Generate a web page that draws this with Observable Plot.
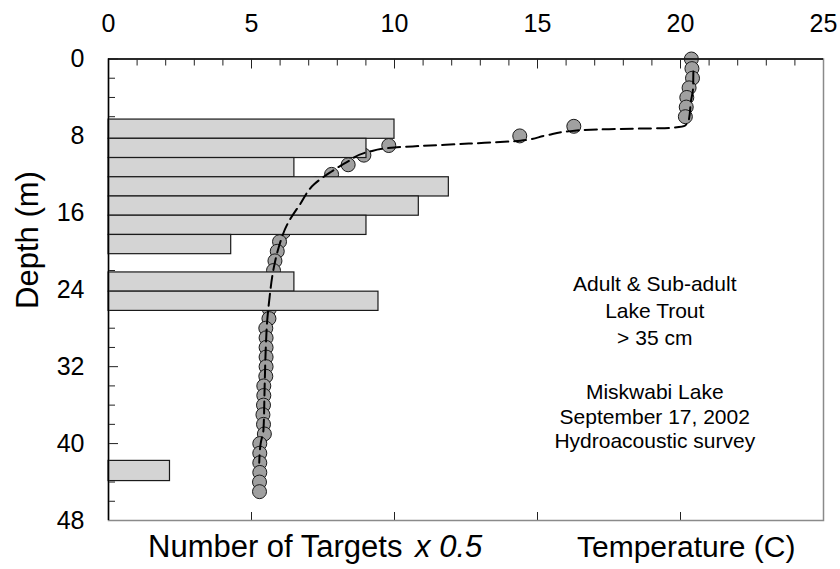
<!DOCTYPE html>
<html>
<head>
<meta charset="utf-8">
<script src="https://cdn.jsdelivr.net/npm/d3@7"></script>
<script src="https://cdn.jsdelivr.net/npm/@observablehq/plot@0.6"></script>
<style>
  body { margin: 0; background: #fff; }
  #chart svg { display: block; }
</style>
</head>
<body>
<div id="chart"></div>
<script>
// Hydroacoustic targets per 2 m depth layer (count x 0.5)
const binTop    = [6.3, 8.3, 10.3, 12.3, 14.3, 16.3, 18.3, 22.2, 24.2, 41.8];
const binBottom = [8.3, 10.3, 12.3, 14.3, 16.3, 18.3, 20.3, 24.2, 26.2, 43.9];
const targets   = [10.0, 9.02, 6.5, 11.9, 10.85, 9.02, 4.29, 6.5, 9.44, 2.15];

// Temperature profile, one reading per metre
const profileDepth = [0, 1, 2, 3, 4, 5, 6, 7, 8, 9, 10, 11, 12, 13, 14, 15, 16, 17, 18, 19, 20, 21, 22,
                      23, 24, 25, 26, 27, 28, 29, 30, 31, 32, 33, 34, 35, 36, 37, 38, 39, 40, 41, 42, 43, 44, 45];
const profileTemp  = [20.38, 20.40, 20.42, 20.30, 20.22, 20.20, 20.17, 16.27, 14.38, 9.80, 8.93, 8.38, 7.80,
                      7.25, 6.95, 6.70, 6.48, 6.28, 6.12, 5.98, 5.90, 5.82, 5.77, 5.72, 5.68, 5.64, 5.62,
                      5.61, 5.50, 5.51, 5.51, 5.51, 5.51, 5.50, 5.43, 5.43, 5.42, 5.40, 5.42, 5.45,
                      5.29, 5.29, 5.29, 5.29, 5.28, 5.28];

// Smoothed thermocline curve
const fitDepth = [1.3, 3.0, 4.5, 6.2, 6.95, 7.17, 7.3, 7.45, 7.95, 8.5, 8.8, 9.05, 9.2, 9.65, 10.7, 11.8,
                  13.0, 15.1, 17.2, 19.6, 21.7, 25.1, 27.2, 30.0, 34.0, 38.5, 40.0, 42.0];
const fitTemp  = [20.45, 20.44, 20.36, 20.30, 20.15, 19.6, 17.5, 16.3, 15.3, 14.4, 12.6, 10.9, 10.0, 9.1,
                  8.35, 7.75, 7.2, 6.7, 6.25, 5.95, 5.78, 5.62, 5.55, 5.50, 5.46, 5.42, 5.32, 5.27];

// Axis ticks
const xMajor = [0, 5, 10, 15, 20, 25];
const xMinor = [0, 1, 2, 3, 4, 5, 6, 7, 8, 9, 10, 11, 12, 13, 14, 15, 16, 17, 18, 19, 20, 21, 22, 23, 24, 25];
const yMajor = [0, 8, 16, 24, 32, 40, 48];
const yMinor = [2, 4, 6, 10, 12, 14, 18, 20, 22, 26, 28, 30, 34, 36, 38, 42, 44, 46];

// In-plot notes
const noteText  = ["Adult & Sub-adult", "Lake Trout", "> 35 cm",
                   "Miskwabi Lake", "September 17, 2002", "Hydroacoustic survey"];
const noteDepth = [23.45, 26.25, 29.05, 34.7, 37.3, 39.8];
const noteTemp  = 19.1;

const font = "'Liberation Sans', Arial, Helvetica, sans-serif";

const bars = targets.map((n, i) => ({n, top: binTop[i], bottom: binBottom[i]}));
const profile = profileDepth.map((depth, i) => ({depth, temp: profileTemp[i]}));
const fit = fitDepth.map((depth, i) => ({depth, temp: fitTemp[i]}));
const notes = noteText.map((text, i) => ({text, depth: noteDepth[i], temp: noteTemp}));

const blank = () => "";

const chart = Plot.plot({
  width: 840,
  height: 569,
  marginLeft: 108,
  marginRight: 17,
  marginTop: 58.5,
  marginBottom: 49,
  style: {fontFamily: font, background: "#fff", color: "#000", overflow: "visible"},
  x: {domain: [0, 25], label: null},
  y: {domain: [0, 48], reverse: true, label: null},
  marks: [
    // inward tick marks
    Plot.axisX(xMinor, {anchor: "top", tickSize: -6, tickFormat: blank, label: null, stroke: "#222"}),
    Plot.axisX(xMajor, {anchor: "top", tickSize: -9, tickFormat: blank, label: null, stroke: "#222"}),
    Plot.axisX(xMajor.slice(1, 5), {anchor: "bottom", tickSize: -8, tickFormat: blank, label: null, stroke: "#222"}),
    Plot.axisY(yMinor, {anchor: "left", tickSize: -7, tickFormat: blank, label: null, stroke: "#222"}),
    Plot.axisY(yMajor, {anchor: "left", tickSize: -10, tickFormat: blank, label: null, stroke: "#222"}),
    // tick labels
    Plot.axisX(xMajor, {anchor: "top", tickSize: 0, tickPadding: 27, fontSize: 25, label: null}),
    Plot.axisY(yMajor, {anchor: "left", tickSize: 0, tickPadding: 24, fontSize: 25, label: null}),
    // temperature readings
    Plot.dot(profile, {x: "temp", y: "depth", r: 7, fill: "#a0a0a0", stroke: "#1a1a1a", strokeWidth: 1}),
    // target counts
    Plot.rect(bars, {x1: 0, x2: "n", y1: "top", y2: "bottom", fill: "#d4d4d4", stroke: "#1a1a1a", strokeWidth: 1.2}),
    // fitted profile
    Plot.line(fit, {x: "temp", y: "depth", curve: "monotone-y", stroke: "#000", strokeWidth: 2, strokeDasharray: "12,6"}),
    // frame: grey right/bottom, black top/left
    Plot.frame({stroke: "#8a8a8a", strokeWidth: 1.5}),
    Plot.ruleY([0], {stroke: "#000", strokeWidth: 1.5}),
    Plot.ruleX([0], {stroke: "#000", strokeWidth: 1.5}),
    // notes
    Plot.text(notes, {x: "temp", y: "depth", text: "text", fontSize: 21, textAnchor: "middle", lineAnchor: "middle", fill: "#000"})
  ]
});

// axis titles
const svg = d3.select(chart);
const bottomTitle = svg.append("text")
  .attr("x", 148).attr("y", 557)
  .attr("text-anchor", "start")
  .attr("font-size", 31)
  .attr("font-family", font)
  .attr("fill", "#000");
bottomTitle.append("tspan").text("Number of Targets ");
bottomTitle.append("tspan").attr("font-style", "italic").attr("dx", 4).text("x 0.5");

svg.append("text")
  .attr("x", 577).attr("y", 557)
  .attr("text-anchor", "start")
  .attr("font-size", 30)
  .attr("font-family", font)
  .attr("fill", "#000")
  .text("Temperature (C)");

svg.append("text")
  .attr("transform", "translate(38,240) rotate(-90)")
  .attr("text-anchor", "middle")
  .attr("font-size", 31)
  .attr("font-family", font)
  .attr("fill", "#000")
  .text("Depth (m)");

document.getElementById("chart").append(chart);
</script>
</body>
</html>
